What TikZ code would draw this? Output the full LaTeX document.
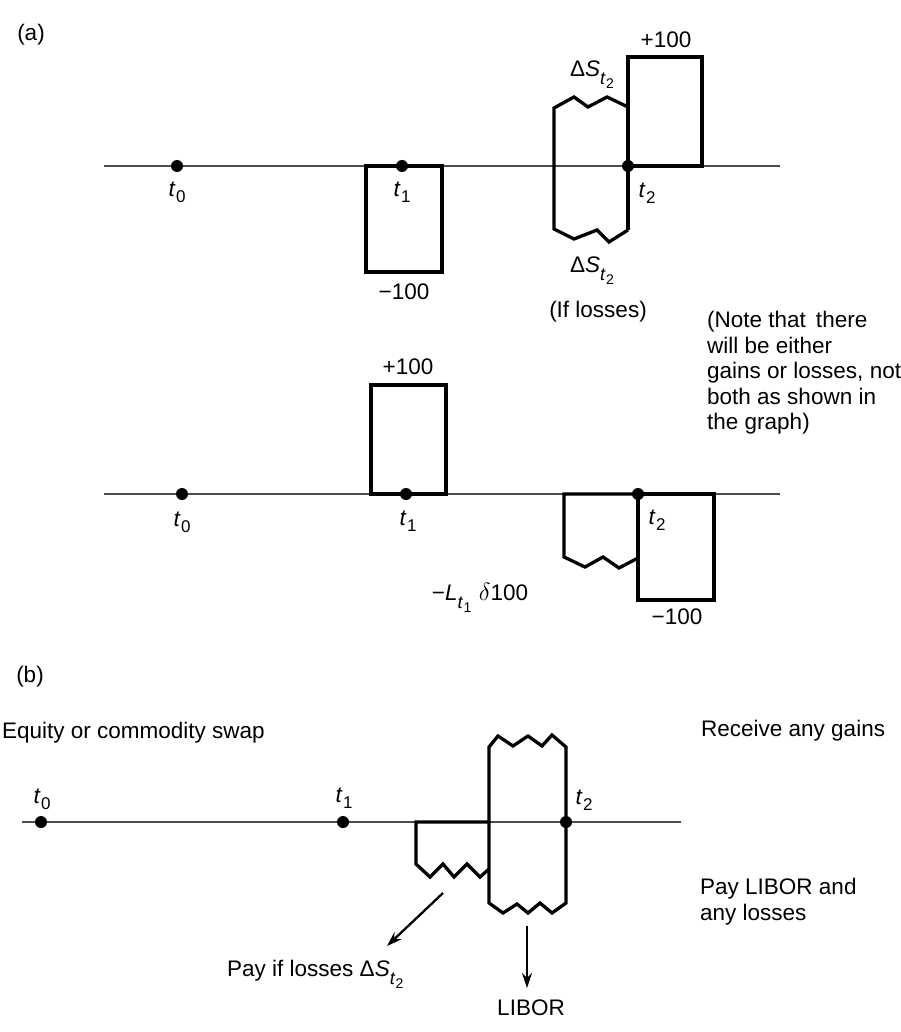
\documentclass[tikz,border=0pt]{standalone}
\usepackage{fontspec}
\setmainfont{Liberation Sans}
\usetikzlibrary{arrows.meta}
\newcommand\subt[1]{\textit{t}\kern0.5pt\raisebox{-6pt}{\fontsize{17}{17}\selectfont #1}}
\newcommand\dS{Δ\textit{S}\raisebox{-8pt}{\fontsize{18}{18}\selectfont\textit{t}\kern0.3pt\raisebox{-4pt}{\fontsize{14}{14}\selectfont 2}}}
\begin{document}
\begin{tikzpicture}[x=1pt,y=-1pt,
  axis/.style={line width=2.3pt, draw=black!70},
  box/.style={line width=4.3pt, line join=miter},
  wave/.style={line width=3.3pt, line join=miter},
  dot/.style={circle, fill=black, inner sep=0pt, minimum size=12pt},
  lbl/.style={font=\fontsize{22.5}{25.5}\selectfont, inner sep=0pt},
  arr/.style={line width=2.3pt, -{Stealth[length=15pt,width=10pt]}}]
\useasboundingbox (0,0) rectangle (900,1032);

% ---------------- (a) top ----------------
\node[lbl] (la) at (31,35) {(a)};
\draw[axis] (104,166) coordinate (a1s) -- (780,166) coordinate (a1e);
% box -100 at t1
\draw[box] (366,166) rectangle (442,272);
% wavy gains/losses at t2
\draw[wave] (628,107) -- (607,97) -- (588,107) -- (574,97) -- (554,108)
  -- (554,229) -- (574,239) -- (597,230) -- (609,242) -- (628,230);
% box +100
\draw[box] (628,230) -- (628,57) -- (702,57) -- (702,166) -- (628,166);
\node[dot] (a1t0) at (177,166) {};
\node[dot] (a1t1) at (402,166) {};
\node[dot] (a1t2) at (628,166) {};
\node[lbl] (a1l0) at (177,192) {\subt{0}};
\node[lbl] (a1l1) at (402,192) {\subt{1}};
\node[lbl] (a1l2) at (647,193) {\subt{2}};
\node[lbl] (a1m) at (404,292) {−100};
\node[lbl] (a1p) at (666,40) {+100};
\node[lbl] (a1ds) at (592,75) {\dS};
\node[lbl] (a1db) at (592,271) {\dS};
\node[lbl] (a1if) at (598,312) {(If losses)};
\node[lbl, anchor=north west, align=left] (note) at (707,311)
  {(Note that\, there\\will be either\\gains or losses, not\\both as shown in\\the graph)};

% ---------------- (a) bottom ----------------
\draw[axis] (104,494) coordinate (a2s) -- (780,494) coordinate (a2e);
\draw[box] (371,494) -- (371,385) -- (446,385) -- (446,494) -- cycle;
\draw[wave] (638,494) -- (564,494) -- (564,557) -- (585,567) -- (603,557)
  -- (619,568) -- (638,558);
\draw[box] (638,494) rectangle (714,600);
\node[dot] (a2t0) at (182,494) {};
\node[dot] (a2t1) at (406,494) {};
\node[dot] (a2t2) at (638,494) {};
\node[lbl] (a2l0) at (182,522) {\subt{0}};
\node[lbl] (a2l1) at (408,521) {\subt{1}};
\node[lbl] (a2l2) at (657,520) {\subt{2}};
\node[lbl] (a2p) at (408,367) {+100};
\node[lbl] (a2m) at (677,617) {−100};
\node[lbl] (a2L) at (480,598) {−\textit{L}\raisebox{-8pt}{\fontsize{18}{18}\selectfont\textit{t}\kern0.3pt\raisebox{-4pt}{\fontsize{14}{14}\selectfont 1}}\,\,{\fontsize{25}{25}\selectfont$\delta$}100};

% ---------------- (b) ----------------
\node[lbl] (lb) at (30,677) {(b)};
\node[lbl, anchor=west] (eq) at (2,733) {Equity or commodity swap};
\node[lbl, anchor=west] (rg) at (701,731) {Receive any gains};
\node[lbl, anchor=north west, align=left] (pl) at (700,878) {Pay LIBOR and\\any losses};
\draw[axis] (22,822) coordinate (bs) -- (681,822) coordinate (be);
% tall wavy box (LIBOR + gains)
\draw[wave] (489,903) -- (489,747) -- (498,736) -- (513,746) -- (528,736)
  -- (542,746) -- (552,735) -- (566,747) -- (566,903) -- (552,913) -- (540,903)
  -- (528,913) -- (517,904) -- (503,913) -- cycle;
% small wavy (losses)
\draw[wave] (489,822) -- (416,822) -- (416,864) -- (430,877) -- (443,864)
  -- (454,877) -- (467,864) -- (480,877) -- (489,869);
\node[dot] (bt0) at (41,822) {};
\node[dot] (bt1) at (343,822) {};
\node[dot] (bt2) at (566,822) {};
\node[lbl] (bl0) at (42,799) {\subt{0}};
\node[lbl] (bl1) at (344,798) {\subt{1}};
\node[lbl] (bl2) at (584,800) {\subt{2}};
\node[lbl, anchor=west] (pay) at (227,974) {Pay if losses \dS};
\node[lbl] (lib) at (531,1008) {LIBOR};
\coordinate (a1from) at (443,893);
\coordinate (a1to) at (387,946);
\coordinate (a2from) at (527,926);
\coordinate (a2to) at (527,988);
\draw[arr] (a1from) -- (a1to);
\draw[arr] (a2from) -- (a2to);
\end{tikzpicture}
\end{document}
